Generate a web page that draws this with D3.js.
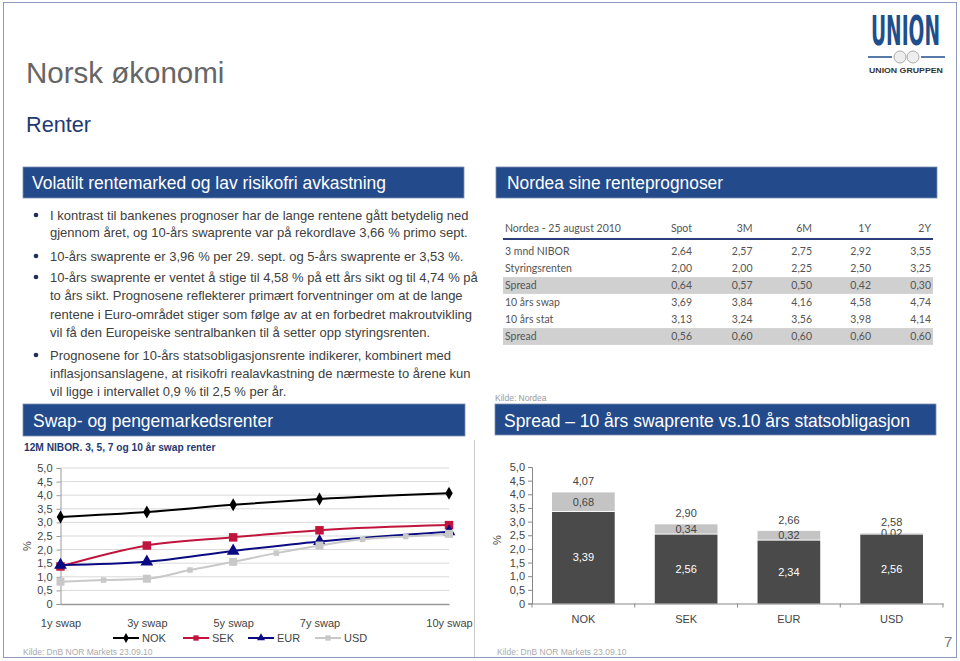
<!DOCTYPE html>
<html><head><meta charset="utf-8">
<script src="https://cdn.jsdelivr.net/npm/d3@7"></script>
<style>
html,body{margin:0;padding:0;background:#fff;}
svg{display:block;font-family:"Liberation Sans",Arial,sans-serif;}
</style></head>
<body>
<svg id="c" width="960" height="661"></svg>
<script>
// ---------- DATA ----------
const swapTenors = [1, 3, 5, 7, 10];
const swapLabels = ["1y swap", "3y swap", "5y swap", "7y swap", "10y swap"];
const nokSwap = [3.20, 3.38, 3.65, 3.86, 4.07];
const sekSwap = [1.38, 2.15, 2.45, 2.71, 2.90];
const eurSwap = [1.43, 1.55, 1.95, 2.30, 2.66];
const usdTenors = [1, 2, 3, 4, 5, 6, 7, 8, 9, 10];
const usdSwap = [0.82, 0.88, 0.93, 1.25, 1.55, 1.87, 2.15, 2.38, 2.48, 2.58];
const yTickValues = [0, 0.5, 1, 1.5, 2, 2.5, 3, 3.5, 4, 4.5, 5];
const seriesNames = ["NOK", "SEK", "EUR", "USD"];

const spreadCats = ["NOK", "SEK", "EUR", "USD"];
const statRates = [3.39, 2.56, 2.34, 2.56];
const spreadVals = [0.68, 0.34, 0.32, 0.02];
const swapTotals = [4.07, 2.90, 2.66, 2.58];

const tableCols = ["Spot", "3M", "6M", "1Y", "2Y"];
const tableRowNames = ["3 mnd NIBOR", "Styringsrenten", "Spread", "10 års swap", "10 års stat", "Spread"];
const nibor3m = [2.64, 2.57, 2.75, 2.92, 3.55];
const styringsrente = [2.00, 2.00, 2.25, 2.50, 3.25];
const spreadNibor = [0.64, 0.57, 0.50, 0.42, 0.30];
const swap10 = [3.69, 3.84, 4.16, 4.58, 4.74];
const stat10 = [3.13, 3.24, 3.56, 3.98, 4.14];
const spread10 = [0.56, 0.60, 0.60, 0.60, 0.60];

const bullets = [
  ["I kontrast til bankenes prognoser har de lange rentene gått betydelig ned",
   "gjennom året, og 10-års swaprente var på rekordlave 3,66 % primo sept."],
  ["10-års swaprente er 3,96 % per 29. sept. og 5-års swaprente er 3,53 %."],
  ["10-års swaprente er ventet å stige til 4,58 % på ett års sikt og til 4,74 % på",
   "to års sikt. Prognosene reflekterer primært forventninger om at de lange",
   "rentene i Euro-området stiger som følge av at en forbedret makroutvikling",
   "vil få den Europeiske sentralbanken til å setter opp styringsrenten."],
  ["Prognosene for 10-års statsobligasjonsrente indikerer, kombinert med",
   "inflasjonsanslagene, at risikofri realavkastning de nærmeste to årene kun",
   "vil ligge i intervallet 0,9 % til 2,5 % per år."]
];

// ---------- DRAW ----------
const svg = d3.select("#c");
const fmt = v => d3.format(".2f")(v).replace(".", ",");
const fmt1 = v => v === 0 ? "0" : d3.format(".1f")(v).replace(".", ",");
const NAVY = "#234a8b";

svg.append("rect").attr("width", 960).attr("height", 661).attr("fill", "#fff");
svg.append("rect").attr("x", 3.5).attr("y", 2.5).attr("width", 953).attr("height", 655)
  .attr("fill", "none").attr("stroke", "#8e9bbf").attr("stroke-width", 1);

// titles
svg.append("text").attr("x", 26).attr("y", 83).attr("font-size", 29.5).attr("fill", "#666").text("Norsk økonomi");
svg.append("text").attr("x", 26).attr("y", 131.5).attr("font-size", 21.7).attr("fill", "#1f3a73").text("Renter");

// logo (scaled horizontally to fit its box)
function fitText(g, txt, x, y, w, attrs) {
  const t = g.append("text").attr("x", 0).attr("y", 0).text(txt);
  Object.entries(attrs).forEach(([k, v]) => t.attr(k, v));
  const nat = t.node().getComputedTextLength() || w;
  t.attr("transform", `translate(${x},${y}) scale(${w / nat},1)`);
  return t;
}
const logo = svg.append("g");
fitText(logo, "UNION", 871, 45, 69, {"font-size": 40, "font-weight": "bold", "fill": "#1f4e8c",
  "font-family": "'Liberation Sans Narrow','DejaVu Sans Condensed','Liberation Sans',sans-serif"});
logo.append("line").attr("x1", 868).attr("x2", 892).attr("y1", 57).attr("y2", 57).attr("stroke", "#1f4e8c").attr("stroke-width", 1.5);
logo.append("line").attr("x1", 921).attr("x2", 945).attr("y1", 57).attr("y2", 57).attr("stroke", "#1f4e8c").attr("stroke-width", 1.5);
logo.append("circle").attr("cx", 900).attr("cy", 57).attr("r", 6).attr("fill", "#eee").attr("stroke", "#aaa");
logo.append("circle").attr("cx", 913).attr("cy", 57).attr("r", 6).attr("fill", "#eee").attr("stroke", "#aaa");
fitText(logo, "UNION GRUPPEN", 869, 73, 74, {"font-size": 7.5, "font-weight": "bold", "fill": "#333"});

// header bars
function headerBar(x, y, w, h, txt, fs, tx, by, tl) {
  svg.append("rect").attr("x", x).attr("y", y).attr("width", w).attr("height", h).attr("fill", NAVY)
    .attr("stroke", "#7f8fb0").attr("stroke-width", 0.8);
  svg.append("text").attr("x", tx).attr("y", by).attr("font-size", fs).attr("fill", "#fff")
    .attr("textLength", tl).attr("lengthAdjust", "spacingAndGlyphs").text(txt);
}
headerBar(23, 167, 441, 31, "Volatilt rentemarked og lav risikofri avkastning", 17.5, 32, 188.5, 354);
headerBar(496, 167, 441, 31, "Nordea sine renteprognoser", 17.5, 507, 188.5, 216);
headerBar(23, 404, 442, 32, "Swap- og pengemarkedsrenter", 18.5, 33, 427, 240);
headerBar(495, 404, 441, 31, "Spread \u2013 10 års swaprente vs.10 års statsobligasjon", 18.5, 504, 426.5, 406);

// bullets
const lineYs = [[215, 232], [256], [277, 295, 314, 332], [355, 373, 391]];
bullets.forEach((b, i) => {
  svg.append("circle").attr("cx", 36).attr("cy", lineYs[i][0]).attr("r", 2.3).attr("fill", "#1f2f5a");
  b.forEach((ln, j) => {
    svg.append("text").attr("x", 50).attr("y", lineYs[i][j] + 4.7).attr("font-size", 13)
      .attr("fill", "#404040").text(ln);
  });
});

// table
const tbl = svg.append("g").attr("font-family", "Lato,'Open Sans',sans-serif").attr("font-size", 10.5).attr("fill", "#555");
const colRight = [692, 752.5, 812, 871, 931];
tbl.append("text").attr("x", 505).attr("y", 231.5).text("Nordea - 25 august 2010");
tableCols.forEach((c, i) => tbl.append("text").attr("x", colRight[i]).attr("y", 231.5).attr("text-anchor", "end").text(c));
tbl.append("line").attr("x1", 503).attr("x2", 933).attr("y1", 239).attr("y2", 239).attr("stroke", "#2a3f7a").attr("stroke-width", 2);
const tableData = [nibor3m, styringsrente, spreadNibor, swap10, stat10, spread10];
tableData.forEach((row, r) => {
  const cy = 251.5 + r * 17;
  if (tableRowNames[r] === "Spread") {
    tbl.append("rect").attr("x", 503).attr("y", cy - 8.4).attr("width", 430).attr("height", 16.8).attr("fill", "#d0d0d0");
  }
  tbl.append("text").attr("x", 505).attr("y", cy + 3.8).text(tableRowNames[r]);
  row.forEach((v, i) => tbl.append("text").attr("x", colRight[i]).attr("y", cy + 3.8).attr("text-anchor", "end").text(fmt(v)));
});
svg.append("text").attr("x", 495).attr("y", 401).attr("font-size", 8.5).attr("fill", "#999").text("Kilde: Nordea");

// ---------- LINE CHART ----------
svg.append("text").attr("x", 24).attr("y", 450.5).attr("font-size", 10.2).attr("font-weight", "bold")
  .attr("fill", "#1f3a73").text("12M NIBOR. 3, 5, 7 og 10 år swap renter");
svg.append("line").attr("x1", 474.5).attr("x2", 474.5).attr("y1", 440).attr("y2", 657).attr("stroke", "#c8c8c8");

const xL = d3.scaleLinear().domain([1, 10]).range([60.5, 449]);
const yL = d3.scaleLinear().domain([0, 5]).range([604, 468]);
const gL = svg.append("g");
gL.selectAll("line.grid").data(yTickValues.filter(v => v > 0)).join("line")
  .attr("x1", xL(1)).attr("x2", xL(10)).attr("y1", d => yL(d)).attr("y2", d => yL(d))
  .attr("stroke", "#d9d9d9").attr("stroke-width", 1);
const yAxL = gL.append("g").attr("transform", `translate(${xL(1)},0)`)
  .call(d3.axisLeft(yL).tickValues(yTickValues).tickFormat(fmt1).tickSize(4).tickPadding(4));
yAxL.select(".domain").attr("stroke", "#999");
yAxL.selectAll(".tick line").attr("stroke", "#999");
yAxL.selectAll("text").attr("font-size", 11).attr("fill", "#444").attr("font-family", "'Liberation Sans',Arial,sans-serif");
const xAxL = gL.append("g").attr("transform", `translate(0,${yL(0)})`)
  .call(d3.axisBottom(xL).tickValues(swapTenors).tickFormat((d, i) => swapLabels[i]).tickSize(0).tickPadding(15));
xAxL.select(".domain").attr("stroke", "#999").attr("stroke-width", 1.5);
xAxL.selectAll("text").attr("font-size", 11).attr("fill", "#444").attr("font-family", "'Liberation Sans',Arial,sans-serif");
gL.append("text").attr("transform", "translate(31,546) rotate(-90)").attr("text-anchor", "middle")
  .attr("font-size", 11).attr("fill", "#444").text("%");

const lineGen = d3.line().x(d => xL(d[0])).y(d => yL(d[1])).curve(d3.curveMonotoneX);
const sym = {
  NOK: d3.symbol().type(d3.symbolDiamond).size(48),
  SEK: d3.symbol().type(d3.symbolSquare).size(72),
  EUR: d3.symbol().type(d3.symbolTriangle).size(70),
  USD: d3.symbol().type(d3.symbolSquare).size(64)
};
const colors = { NOK: "#000000", SEK: "#c0143c", EUR: "#0a0a82", USD: "#c8c8c8" };
const seriesPts = {
  NOK: swapTenors.map((t, i) => [t, nokSwap[i]]),
  SEK: swapTenors.map((t, i) => [t, sekSwap[i]]),
  EUR: swapTenors.map((t, i) => [t, eurSwap[i]]),
  USD: usdTenors.map((t, i) => [t, usdSwap[i]])
};
seriesNames.forEach(name => {
  const pts = seriesPts[name];
  gL.append("path").attr("d", lineGen(pts)).attr("fill", "none").attr("stroke", colors[name]).attr("stroke-width", 2);
  gL.selectAll(null).data(pts).join("path")
    .attr("transform", d => `translate(${xL(d[0])},${yL(d[1])})`)
    .attr("d", d => (name === "USD" && !swapTenors.includes(d[0])) ? d3.symbol().type(d3.symbolSquare).size(30)() : sym[name]())
    .attr("fill", colors[name]);
});
const legX = [113, 183, 248, 315];
seriesNames.forEach((name, i) => {
  const lg = gL.append("g").attr("transform", `translate(${legX[i]},638)`);
  lg.append("line").attr("x1", 0).attr("x2", 26).attr("stroke", colors[name]).attr("stroke-width", 2);
  lg.append("path").attr("transform", "translate(13,0)").attr("d", d3.symbol().type(
    name === "NOK" ? d3.symbolDiamond : name === "EUR" ? d3.symbolTriangle : d3.symbolSquare).size(28)())
    .attr("fill", colors[name]);
  lg.append("text").attr("x", 29).attr("y", 4).attr("font-size", 11).attr("fill", "#444").text(name);
});
svg.append("text").attr("x", 23).attr("y", 655).attr("font-size", 8.5).attr("fill", "#aaa").text("Kilde: DnB NOR Markets 23.09.10");

// ---------- BAR CHART ----------
const xB = d3.scaleBand().domain(spreadCats).range([532, 943]).paddingInner(0.39).paddingOuter(0.195);
const yB = d3.scaleLinear().domain([0, 5]).range([603.5, 467]);
const gB = svg.append("g");
const yAxB = gB.append("g").attr("transform", "translate(532,0)")
  .call(d3.axisLeft(yB).tickValues(yTickValues).tickFormat(fmt1).tickSize(4).tickPadding(3));
yAxB.select(".domain").attr("stroke", "#888");
yAxB.selectAll(".tick line").attr("stroke", "#888");
yAxB.selectAll("text").attr("font-size", 11).attr("fill", "#444").attr("font-family", "'Liberation Sans',Arial,sans-serif");
const xAxB = gB.append("g").attr("transform", `translate(0,${yB(0)})`)
  .call(d3.axisBottom(xB).tickSize(0).tickPadding(12));
xAxB.select(".domain").attr("stroke", "#888");
xAxB.selectAll("text").attr("font-size", 11).attr("fill", "#444").attr("font-family", "'Liberation Sans',Arial,sans-serif");
const step = xB.step();
gB.selectAll("line.bt").data(d3.range(spreadCats.length + 1)).join("line")
  .attr("x1", i => 532 + i * step).attr("x2", i => 532 + i * step)
  .attr("y1", yB(0)).attr("y2", yB(0) + 4).attr("stroke", "#888");
gB.append("text").attr("transform", "translate(501,540) rotate(-90)").attr("text-anchor", "middle")
  .attr("font-size", 11).attr("fill", "#444").text("%");

gB.selectAll("rect.sp").data(spreadCats).join("rect")
  .attr("x", d => xB(d)).attr("width", xB.bandwidth())
  .attr("y", (d, i) => yB(statRates[i] + spreadVals[i]))
  .attr("height", (d, i) => yB(statRates[i]) - yB(statRates[i] + spreadVals[i]))
  .attr("fill", "#c4c4c4");
gB.selectAll("text.sp").data(spreadCats).join("text")
  .attr("x", d => xB(d) + xB.bandwidth() / 2).attr("y", (d, i) => yB(statRates[i] + spreadVals[i] / 2) + 4)
  .attr("text-anchor", "middle").attr("font-size", 11).attr("fill", "#444").text((d, i) => fmt(spreadVals[i]));
gB.selectAll("rect.st").data(spreadCats).join("rect")
  .attr("x", d => xB(d)).attr("width", xB.bandwidth())
  .attr("y", (d, i) => yB(statRates[i]) + 1)
  .attr("height", (d, i) => yB(0) - yB(statRates[i]) - 1)
  .attr("fill", "#4a4a4a");
gB.selectAll("text.st").data(spreadCats).join("text")
  .attr("x", d => xB(d) + xB.bandwidth() / 2).attr("y", (d, i) => yB(statRates[i] / 2) + 4)
  .attr("text-anchor", "middle").attr("font-size", 11).attr("fill", "#fff").text((d, i) => fmt(statRates[i]));
gB.selectAll("text.tot").data(spreadCats).join("text")
  .attr("x", d => xB(d) + xB.bandwidth() / 2).attr("y", (d, i) => yB(swapTotals[i]) - 7)
  .attr("text-anchor", "middle").attr("font-size", 11).attr("fill", "#444").text((d, i) => fmt(swapTotals[i]));

svg.append("text").attr("x", 497).attr("y", 655).attr("font-size", 8.5).attr("fill", "#aaa").text("Kilde: DnB NOR Markets 23.09.10");
svg.append("text").attr("x", 944).attr("y", 647).attr("font-size", 15).attr("fill", "#777").text("7");
</script>
</body></html>
